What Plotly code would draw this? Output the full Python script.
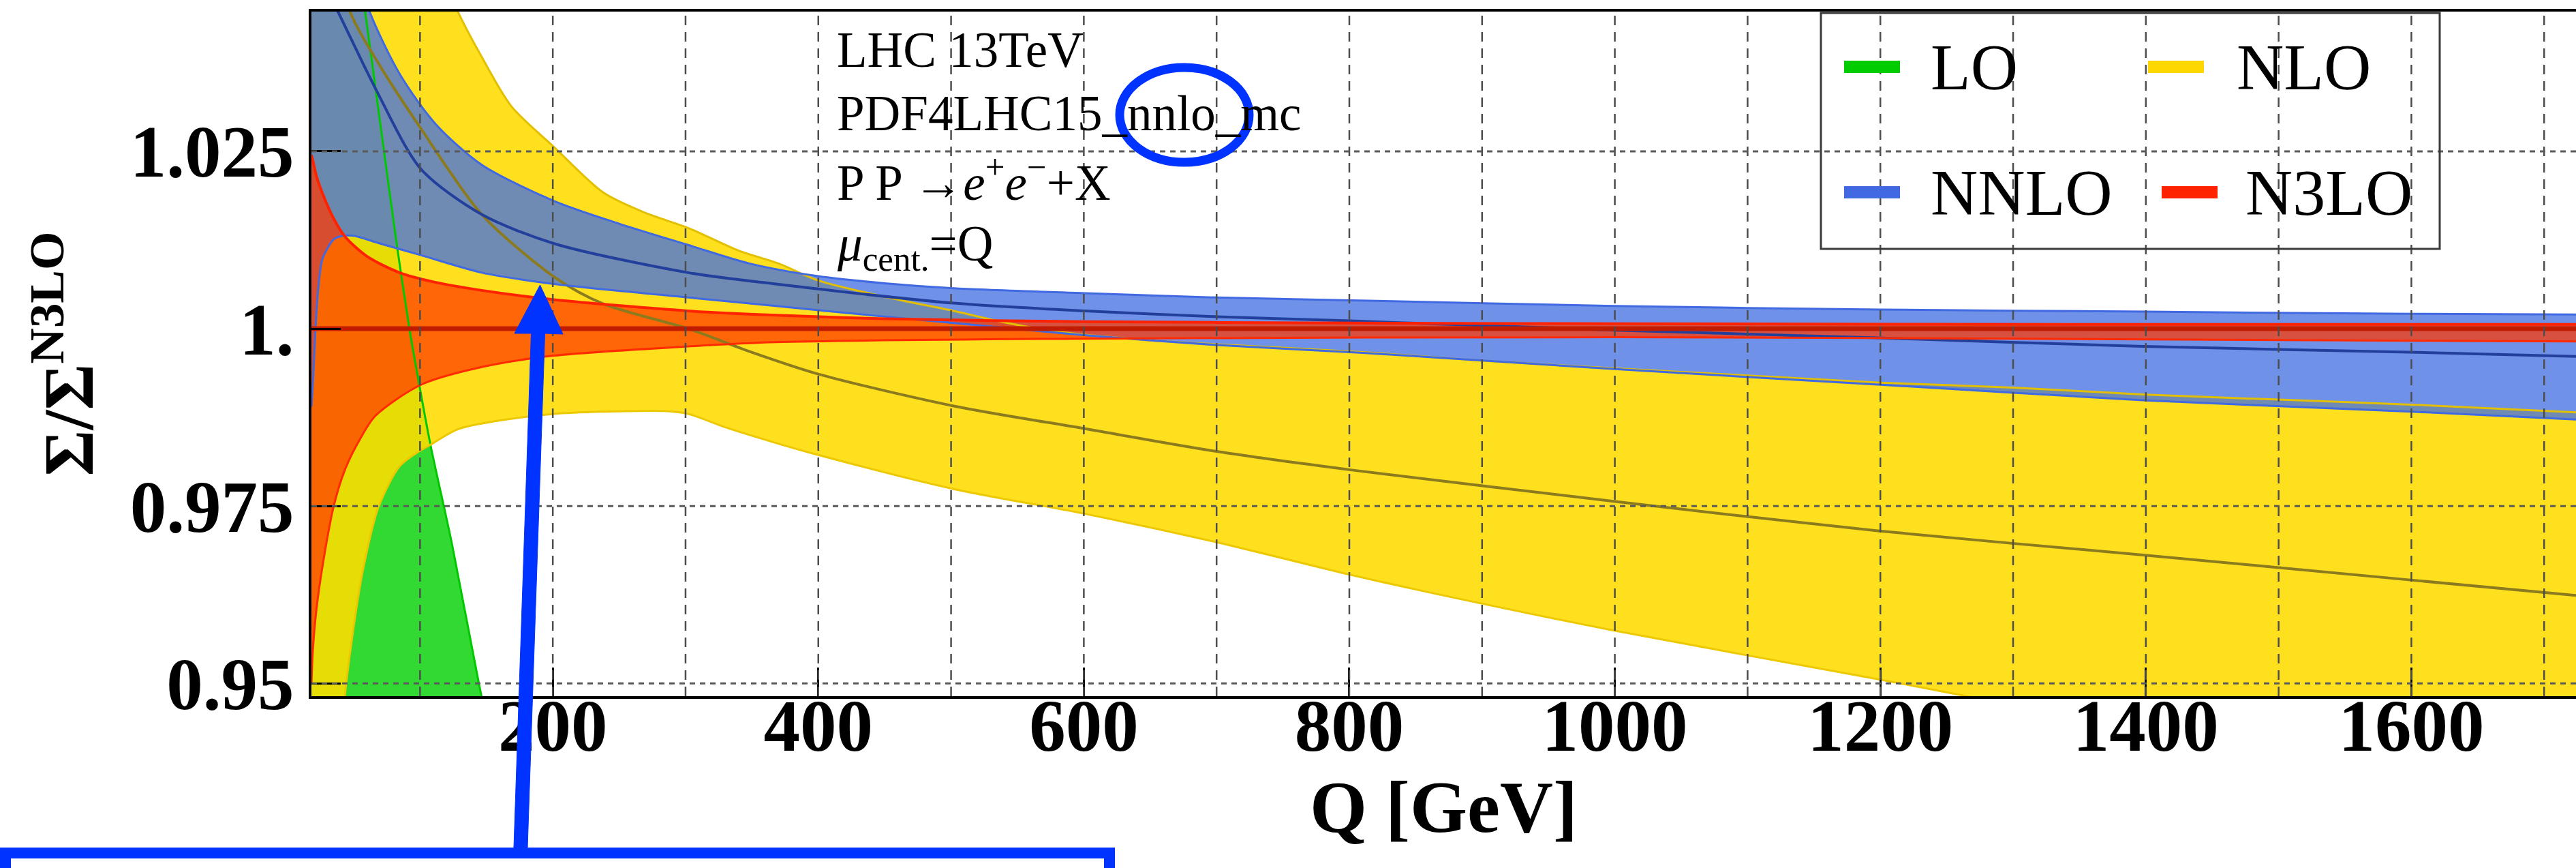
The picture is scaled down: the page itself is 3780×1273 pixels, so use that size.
import plotly.graph_objects as go

# ---------------- data ----------------
# LO band (only its upper edge is visible)
Q_LO_UP = [18, 35, 50, 58.5, 70, 82, 92, 100, 108, 124, 144, 160]
LO_UP = [1.097, 1.075, 1.056, 1.0449, 1.029, 1.0125, 1.000, 0.9915, 0.9835, 0.9697, 0.9503, 0.936]

# NLO band
Q_NLO_UP = [18, 60, 100, 128, 146.5, 169, 201, 238, 270, 302, 340, 370, 400, 450, 502, 540, 580,
            640, 700, 810, 900, 1000, 1100, 1200, 1300, 1400, 1500, 1600, 1724]
NLO_UP = [1.10, 1.08, 1.058, 1.0449, 1.0383, 1.0313, 1.0256, 1.0192, 1.0163, 1.0142, 1.0110, 1.0092,
          1.0068, 1.0045, 1.0025, 1.0009, 0.9996, 0.9985, 0.9978, 0.9967, 0.9955, 0.9944, 0.9934,
          0.9924, 0.9917, 0.9907, 0.9900, 0.9893, 0.9882]
Q_NLO_LO = [18, 30, 38, 43.4, 50, 57, 68.6, 84.6, 100, 107.5, 128, 158, 201, 238, 284, 302, 330,
            368, 400, 502, 601, 700, 801, 861, 998, 1198, 1265, 1300, 1500, 1724]
NLO_LO = [0.90, 0.922, 0.938, 0.9484, 0.958, 0.966, 0.9748, 0.9806, 0.9828, 0.9836, 0.9858, 0.9870,
          0.9880, 0.9883, 0.9884, 0.9880, 0.9861, 0.9839, 0.9822, 0.9774, 0.9739, 0.9699, 0.9653,
          0.9628, 0.9575, 0.9506, 0.9482, 0.9468, 0.940, 0.932]
Q_NLO_C = [18, 30, 46.8, 70, 100.7, 146.5, 201, 238, 302, 348, 400, 502, 601, 700, 801, 998, 1198,
           1398, 1598, 1724]
NLO_C = [1.075, 1.06, 1.0449, 1.037, 1.0282, 1.0161, 1.0073, 1.0035, 1.0, 0.9968, 0.9936, 0.9891,
         0.9859, 0.9827, 0.9801, 0.9757, 0.9715, 0.9681, 0.9646, 0.9624]

# NNLO band
Q_NNLO_UP = [18, 40, 62, 85, 112, 146.5, 201, 250, 302, 348, 400, 450, 502, 601, 700, 801, 1000,
             1200, 1400, 1600, 1724]
NNLO_UP = [1.075, 1.058, 1.0447, 1.0358, 1.0288, 1.0231, 1.018, 1.0148, 1.0118, 1.0092, 1.0074,
           1.0064, 1.0057, 1.0050, 1.0044, 1.0040, 1.0032, 1.0027, 1.0024, 1.0021, 1.0020]
Q_NNLO_LO = [18.2, 19.5, 21, 23, 26, 29.6, 35, 42, 50, 70, 100, 146.5, 201, 302, 368, 450, 502,
             600, 700, 810, 1000, 1200, 1400, 1600, 1724]
NNLO_LO = [0.989, 0.993, 0.999, 1.005, 1.0095, 1.0111, 1.0126, 1.0131, 1.0131, 1.0120, 1.0104,
           1.0079, 1.0063, 1.0044, 1.0032, 1.0017, 1.0008, 0.9991, 0.9977, 0.9966, 0.9943, 0.9921,
           0.9899, 0.9883, 0.9872]
Q_NNLO_C = [18, 37.6, 66.3, 100.7, 146.5, 201, 302, 368, 502, 601, 700, 801, 1000, 1198, 1398,
            1598, 1724]
NNLO_C = [1.052, 1.0449, 1.0339, 1.0225, 1.0161, 1.012, 1.0079, 1.0063, 1.0036, 1.0025, 1.0017,
          1.0011, 0.9998, 0.9987, 0.9975, 0.9967, 0.9961]

# N3LO band
Q_N3_UP = [18.2, 19.3, 22, 27.3, 35, 43.4, 60, 84.6, 110, 146.5, 201, 302, 368, 450, 600, 800,
           1000, 1400, 1724]
N3_UP = [1.0245, 1.0237, 1.0215, 1.0187, 1.0155, 1.0130, 1.0102, 1.0079, 1.0066, 1.0054, 1.0041,
         1.0025, 1.0019, 1.0014, 1.0010, 1.0008, 1.0007, 1.0006, 1.0006]
Q_N3_LO = [18.2, 19.3, 22, 27.3, 35, 43.4, 55, 66.3, 100.7, 146.5, 201, 302, 368, 600, 1000, 1400,
           1724]
N3_LO = [0.950, 0.9548, 0.9605, 0.9674, 0.9750, 0.9801, 0.9845, 0.9877, 0.9921, 0.9946, 0.9962,
         0.9975, 0.9981, 0.9986, 0.9988, 0.9985, 0.9982]
Q_N3_C = [18.2, 1724]
N3_C = [1.0, 1.0]

# axes
X_RANGE = [18.2, 1724]
Y_RANGE = [0.9482, 1.0447]
X_TICKS = [200, 400, 600, 800, 1000, 1200, 1400, 1600]
Y_TICKS = [0.95, 0.975, 1.0, 1.025]
Y_TICKTEXT = ["0.95", "0.975", "1.", "1.025"]
X_GRID = [100, 200, 300, 400, 500, 600, 700, 800, 900, 1000, 1100, 1200, 1300, 1400, 1500, 1600, 1700]
Y_GRID = [0.95, 0.975, 1.025]

LEGEND_NAMES = ["LO", "NLO", "NNLO", "N3LO"]
LEGEND_COLORS = ["#00cc00", "#ffd700", "#4169e1", "#ff2200"]
INFO_LINES = ["LHC 13TeV", "PDF4LHC15_nnlo_mc",
              "P P →<i>e</i><sup>+</sup><i>e</i><sup>−</sup>+X",
              "<i>μ</i><sub>cent.</sub>=Q"]

# ---------------- styling / layout helpers ----------------
W, H = 3780, 1273
PL, PR, PT, PB = 457, 3780, 17, 1021


def fx(px):
    return (px - PL) / (PR - PL)


def fy(py):
    return (PB - py) / (PB - PT)


SERIF = "Liberation Serif"
C_LO_FILL = "rgb(51,217,51)"
C_NLO_FILL = "rgba(255,220,0,0.88)"
C_NNLO_FILL = "rgba(68,113,225,0.77)"
C_N3_FILL = "rgba(255,56,0,0.73)"
SM = 0.8

fig = go.Figure()


def band(qu, u, ql, l, color):
    fig.add_trace(go.Scatter(x=ql, y=l, mode="lines",
                             line=dict(width=0, shape="spline", smoothing=SM),
                             showlegend=False, hoverinfo="skip"))
    fig.add_trace(go.Scatter(x=qu, y=u, mode="lines", fill="tonexty", fillcolor=color,
                             line=dict(width=0, shape="spline", smoothing=SM),
                             showlegend=False, hoverinfo="skip"))


def line(q, v, color, width):
    fig.add_trace(go.Scatter(x=q, y=v, mode="lines",
                             line=dict(color=color, width=width, shape="spline", smoothing=SM),
                             showlegend=False, hoverinfo="skip"))


# fills
fig.add_trace(go.Scatter(x=Q_LO_UP, y=LO_UP, mode="lines", fill="tozeroy",
                         fillcolor=C_LO_FILL, line=dict(width=0, shape="spline", smoothing=SM),
                         showlegend=False, hoverinfo="skip"))
band(Q_NLO_UP, NLO_UP, Q_NLO_LO, NLO_LO, C_NLO_FILL)
band(Q_NNLO_UP, NNLO_UP, Q_NNLO_LO, NNLO_LO, C_NNLO_FILL)
band(Q_N3_UP, N3_UP, Q_N3_LO, N3_LO, C_N3_FILL)

# edge and central lines
line(Q_LO_UP, LO_UP, "#00c800", 3)
line(Q_NLO_LO, NLO_LO, "#ecc800", 3)
line(Q_NLO_UP, NLO_UP, "#e2bf00", 3)
line(Q_NLO_C, NLO_C, "#8b7b1e", 4)
line(Q_NNLO_LO, NNLO_LO, "#4169e1", 3)
line(Q_NNLO_UP, NNLO_UP, "#4169e1", 3)
line(Q_NNLO_C, NNLO_C, "#233f9c", 4)
line(Q_N3_LO, N3_LO, "#ff2a00", 3)
line(Q_N3_UP, N3_UP, "#ff2200", 4)
line(Q_N3_C, N3_C, "#c21c00", 7)

shapes = []
for q in X_GRID:
    shapes.append(dict(type="line", xref="x", yref="paper", x0=q, x1=q, y0=0, y1=1,
                       line=dict(color="#4d4d4d", width=2.5, dash="14px,10px"), layer="above"))
for v in Y_GRID:
    shapes.append(dict(type="line", xref="paper", yref="y", x0=0, x1=1, y0=v, y1=v,
                       line=dict(color="#5a5a5a", width=3, dash="8px,7px"), layer="above"))

annotations = []

# legend (frame, swatches, labels)
shapes.append(dict(type="rect", xref="paper", yref="paper", x0=fx(2672), x1=fx(3580),
                   y0=fy(365), y1=fy(19), line=dict(color="#3a3a3a", width=3),
                   fillcolor="rgba(0,0,0,0)", layer="above"))
LEG_SWATCH_X = [2706, 3152, 2706, 3172]
LEG_TEXT_X = [2831, 3280, 2831, 3293]
LEG_ROW_Y = [98, 98, 282, 282]
for nm, c, sx, tx, ry in zip(LEGEND_NAMES, LEGEND_COLORS, LEG_SWATCH_X, LEG_TEXT_X, LEG_ROW_Y):
    shapes.append(dict(type="rect", xref="paper", yref="paper", x0=fx(sx), x1=fx(sx + 82),
                       y0=fy(ry + 9), y1=fy(ry - 9), fillcolor=c, line=dict(width=0),
                       layer="above"))
    annotations.append(dict(text=nm, xref="paper", yref="paper", x=fx(tx), y=fy(ry),
                            xanchor="left", yanchor="middle", showarrow=False,
                            font=dict(family=SERIF, size=96, color="black")))

# info text block
INFO_Y = [74, 167, 262, 362]
for t, yy in zip(INFO_LINES, INFO_Y):
    annotations.append(dict(text=t, xref="paper", yref="paper", x=fx(1226), y=fy(yy),
                            xanchor="left", yanchor="middle", showarrow=False,
                            font=dict(family=SERIF, size=73, color="black")))

# blue overlay: ellipse, box, arrow
BLUE = "#0033ff"
shapes.append(dict(type="circle", xref="paper", yref="paper", x0=fx(1643), x1=fx(1833),
                   y0=fy(238), y1=fy(99), line=dict(color=BLUE, width=13), layer="above"))
shapes.append(dict(type="rect", xref="paper", yref="paper", x0=fx(8), x1=fx(1628),
                   y0=fy(1251), y1=fy(1320), line=dict(color=BLUE, width=16), layer="above"))
arrow_px = [(754, 1243), (774, 1243), (799.5, 489), (826, 490), (792.5, 418), (755, 489), (779.5, 489)]
path = "M " + " L ".join(f"{fx(a):.5f},{fy(b):.5f}" for a, b in arrow_px) + " Z"
shapes.append(dict(type="path", xref="paper", yref="paper", path=path,
                   fillcolor=BLUE, line=dict(color=BLUE, width=1), layer="above"))

fig.update_layout(
    width=W, height=H,
    margin=dict(l=PL, r=W - PR, t=PT, b=H - PB),
    paper_bgcolor="white", plot_bgcolor="white",
    showlegend=False,
    shapes=shapes, annotations=annotations,
    xaxis=dict(range=X_RANGE, tickmode="array", tickvals=X_TICKS, ticks="inside", ticklen=42,
               tickwidth=3, tickcolor="black", showline=True, linewidth=4, linecolor="black",
               mirror=True, showgrid=False, zeroline=False, ticklabelstandoff=-52,
               automargin=False,
               tickfont=dict(family=SERIF, size=107, color="black", weight="bold"),
               title=dict(text="Q [GeV]", standoff=6,
                          font=dict(family=SERIF, size=108, color="black", weight="bold"))),
    yaxis=dict(range=Y_RANGE, tickmode="array", tickvals=Y_TICKS, ticktext=Y_TICKTEXT,
               ticks="inside", ticklen=43, tickwidth=3, tickcolor="black", showline=True,
               linewidth=4, linecolor="black", showgrid=False, zeroline=False,
               automargin=False,
               tickfont=dict(family=SERIF, size=107, color="black", weight="bold"),
               title=dict(text="Σ/Σ<sup>N3LO</sup>", standoff=20,
                          font=dict(family=SERIF, size=104, color="black", weight="bold"))),
)

fig.write_html("out.html")
